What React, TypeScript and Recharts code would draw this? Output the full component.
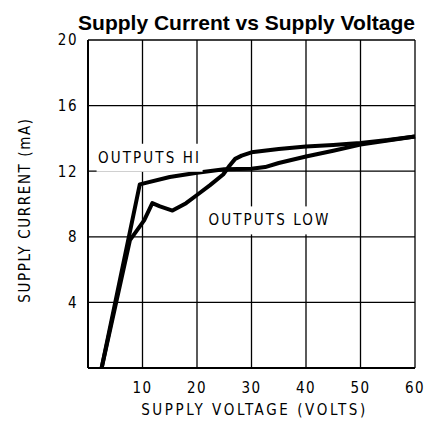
import React from 'react';
import { LineChart, Line, XAxis, YAxis, CartesianGrid, ReferenceDot } from 'recharts';

// supply voltage (V) / supply current (mA)
const hiVolts = [2.5, 9.5, 15, 20, 25, 30, 32.5, 35, 40, 45, 50, 55, 60];
const hiCurrent = [0, 11.2, 11.65, 11.9, 12.12, 12.15, 12.25, 12.5, 12.9, 13.25, 13.62, 13.87, 14.12];

const lowVolts = [2.5, 7.7, 10.3, 11.8, 13.2, 15.5, 18, 20, 22.4, 24.8, 26, 27, 28.2, 30, 35, 40, 45, 48, 50, 55, 60];
const lowCurrent = [0, 7.8, 9.0, 10.05, 9.85, 9.6, 10.05, 10.55, 11.15, 11.8, 12.35, 12.75, 12.95, 13.15, 13.35, 13.5, 13.6, 13.68, 13.72, 13.9, 14.12];

const xTicks = [10, 20, 30, 40, 50, 60];
const yTicks = [4, 8, 12, 16, 20];

const notes = [
  { text: 'OUTPUTS HI', v: 11.3, ma: 12.82 },
  { text: 'OUTPUTS LOW', v: 33.3, ma: 9.0 },
];

const FONT = "'DejaVu Sans Condensed', 'DejaVu Sans', sans-serif";

const hiData = hiVolts.map((v, i) => ({ v, ma: hiCurrent[i] }));
const lowData = lowVolts.map((v, i) => ({ v, ma: lowCurrent[i] }));

const NoteBox = (props: any) => {
  const { cx, cy, text } = props;
  const w = text.length * 9.8 + 8;
  return (
    <g>
      <rect x={cx - w / 2} y={cy - 14} width={w} height={28} fill="#fff" />
      <text x={cx} y={cy} textAnchor="middle" dominantBaseline="central" fontFamily={FONT} fontSize={15} letterSpacing={2.1} fill="#000">
        {text}
      </text>
    </g>
  );
};

const YTitle = (props: any) => {
  const { viewBox } = props;
  const cx = viewBox.x + 25;
  const cy = viewBox.y + viewBox.height / 2 + 6;
  return (
    <text x={cx} y={cy} transform={`rotate(-90 ${cx} ${cy})`} textAnchor="middle" dominantBaseline="central" fontFamily={FONT} fontSize={15} letterSpacing={1.6} fill="#000">
      SUPPLY CURRENT (mA)
    </text>
  );
};

const XTitle = (props: any) => {
  const { viewBox } = props;
  const cx = viewBox.x + viewBox.width / 2 + 3;
  const cy = viewBox.y + 42;
  return (
    <text x={cx} y={cy} textAnchor="middle" dominantBaseline="central" fontFamily={FONT} fontSize={15} letterSpacing={2.6} fill="#000">
      SUPPLY VOLTAGE (VOLTS)
    </text>
  );
};

export default function App() {
  return (
    <div style={{ position: 'absolute', left: 0, top: 0, width: 430, height: 435, background: '#fff' }}>
      <div
        style={{
          position: 'absolute',
          left: 0,
          width: 493,
          top: 12,
          textAlign: 'center',
          fontFamily: "'Liberation Sans', Arial, sans-serif",
          fontWeight: 700,
          fontSize: 21,
          lineHeight: '21px',
          color: '#000',
          whiteSpace: 'nowrap',
        }}
      >
        Supply Current vs Supply Voltage
      </div>
      <LineChart width={430} height={435} margin={{ top: 40, right: 15, bottom: 0, left: 0 }}>
        <CartesianGrid stroke="#000" strokeWidth={1.3} />
        <XAxis
          type="number"
          dataKey="v"
          domain={[0, 60]}
          ticks={xTicks}
          height={67}
          tickSize={0}
          tickMargin={14}
          axisLine={{ stroke: '#000', strokeWidth: 2 }}
          tickLine={false}
          tick={{ fill: '#000', fontSize: 15, fontFamily: FONT, letterSpacing: 1.5 }}
          label={<XTitle />}
        />
        <YAxis
          type="number"
          dataKey="ma"
          domain={[0, 20]}
          ticks={yTicks}
          width={88}
          tickSize={0}
          tickMargin={10}
          axisLine={{ stroke: '#000', strokeWidth: 2 }}
          tickLine={false}
          tick={{ fill: '#000', fontSize: 15, fontFamily: FONT, letterSpacing: 1.5 }}
          label={<YTitle />}
        />
        {notes.map((n) => (
          <ReferenceDot key={n.text} x={n.v} y={n.ma} r={0} shape={(p: any) => <NoteBox {...p} text={n.text} />} />
        ))}
        <Line data={hiData} dataKey="ma" type="linear" stroke="#000" strokeWidth={4} strokeLinejoin="round" dot={false} isAnimationActive={false} />
        <Line data={lowData} dataKey="ma" type="linear" stroke="#000" strokeWidth={4} strokeLinejoin="round" dot={false} isAnimationActive={false} />
      </LineChart>
    </div>
  );
}
